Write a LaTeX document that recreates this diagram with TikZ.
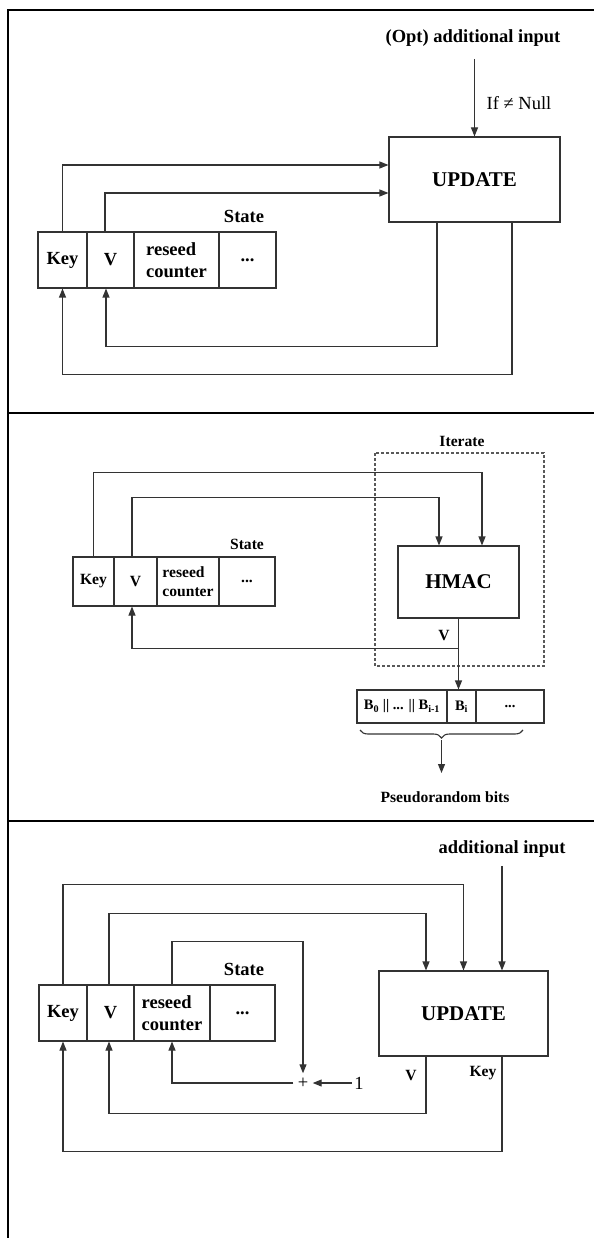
\documentclass[tikz,border=0pt]{standalone}
\usepackage{fontspec}
\setmainfont{Liberation Serif}
\usetikzlibrary{arrows.meta,decorations.pathreplacing}

\tikzset{every picture/.style={line width=1pt},
  frame/.style={draw=black, line width=1.8pt},
  wire/.style={draw=black!80, line width=1.1pt},
  arr/.style={wire, -{Triangle[length=9pt,width=7pt]}},
  box/.style={draw=black!80, line width=1.1pt, inner sep=0pt, font=\fontsize{21}{23}\selectfont\bfseries},
  cell/.style={draw=black!80, line width=1.1pt, inner sep=0pt, minimum height=56pt, align=left, font=\fontsize{18.5}{22}\selectfont\bfseries},
  smallcell/.style={cell, minimum height=49pt, font=\fontsize{15.6}{19}\selectfont\bfseries},
  bitcell/.style={cell, minimum height=33pt, font=\fontsize{14.5}{16}\selectfont\bfseries},
  lab/.style={inner sep=2pt, font=\fontsize{18.5}{22}\selectfont\bfseries},
  smalllab/.style={inner sep=2pt, font=\fontsize{15.6}{18}\selectfont\bfseries},
  plain/.style={inner sep=2pt, font=\fontsize{18.5}{22}\selectfont}
}

\begin{document}
\begin{tikzpicture}[x=1pt,y=1pt,yscale=-1,xscale=1]
\useasboundingbox (0,0) rectangle (594,1238);

%Shape: Frame
\draw [frame] (8,1238) -- (8,10) -- (594,10) ;
\draw [frame] (8,413) -- (594,413) ;
\draw [frame] (8,821) -- (594,821) ;

%%% Panel 1
%Shape: Rectangle
\draw (474.5,179.5) node (u1) [box, minimum width=171pt, minimum height=85pt] {UPDATE};
%Shape: State cells
\draw (62.5,260) node (k1) [cell, minimum width=49pt] {Key};
\draw (110.5,260) node (v1) [cell, minimum width=47pt] {V};
\draw (176.5,260) node (r1) [cell, minimum width=85pt] {reseed\\counter};
\draw (247.5,260) node (d1) [cell, minimum width=57pt] {...};
% Text Node
\draw (473,38) node (addin1) [lab] {(Opt) additional input};
% Text Node
\draw (519,103) node (ifnn1) [plain] {If ≠ Null};
% Text Node
\draw (244,216) node (st1) [lab] {State};
%Straight Lines
\draw [arr, shorten <=10pt] (addin1.south -| u1.north) -- (u1.north) ;
\draw [arr] (k1.north) |- ([yshift=-14.5pt]u1.west) ;
\draw [arr] ([xshift=-5.5pt]v1.north) |- ([yshift=13.5pt]u1.west) ;
\draw [arr] ([xshift=-37.5pt]u1.south) -- ++(0,124) -| ([xshift=-4.5pt]v1.south) ;
\draw [arr] ([xshift=37.5pt]u1.south) -- ++(0,152) -| (k1.south) ;

%%% Panel 2
%Shape: Dashed rectangle
\draw [draw=black!65, line width=1.3pt, dash pattern=on 3pt off 2pt] (375,453) rectangle (544,666) ;
% Text Node
\draw (462,441) node (iter2) [smalllab] {Iterate};
%Shape: Rectangle
\draw (458.5,582) node (h2) [box, minimum width=121pt, minimum height=72pt] {HMAC};
%Shape: State cells
\draw (93.5,581.5) node (k2) [smallcell, minimum width=41pt] {Key};
\draw (135.5,581.5) node (v2) [smallcell, minimum width=43pt] {V};
\draw (188,581.5) node (r2) [smallcell, minimum width=62pt] {reseed\\counter};
\draw (247,581.5) node (d2) [smallcell, minimum width=56pt] {...};
% Text Node
\draw (247,544) node (st2) [smalllab] {State};
%Shape: Output cells
\draw (402,706.5) node (b20) [bitcell, minimum width=90pt] {B\textsubscript{0} || ... || B\textsubscript{i-1}};
\draw (461.5,706.5) node (b2i) [bitcell, minimum width=29pt] {B\textsubscript{i}};
\draw (510,706.5) node (b2r) [bitcell, minimum width=68pt] {...};
% Text Node
\draw (444,636) node (vlab2) [smalllab] {V};
% Text Node
\draw (445,797) node (prb2) [smalllab] {Pseudorandom bits};
%Straight Lines
\draw [arr] (k2.north) -- ++(0,-84) -| ([xshift=23.5pt]h2.north) ;
\draw [arr] ([xshift=-3.5pt]v2.north) -- ++(0,-59) -| ([xshift=-19.5pt]h2.north) ;
\draw [arr] (h2.south) -- (h2.south |- b2i.north) ;
\path (h2.south) ++(0,30) coordinate (split2) ;
\draw [arr] (split2) -| ([xshift=-3.5pt]v2.south) ;
%Shape: Brace
\draw [wire, decorate, decoration={brace, mirror, amplitude=8pt}] (360,730) -- (523,730) ;
\coordinate (brtip2) at (441.5,740) ;
\draw [arr, shorten >=16pt] (brtip2) -- (brtip2 |- prb2.north) ;

%%% Panel 3
%Shape: Rectangle
\draw (463.5,1013.5) node (u3) [box, minimum width=169pt, minimum height=85pt] {UPDATE};
%Shape: State cells
\draw (63,1013) node (k3) [cell, minimum width=48pt] {Key};
\draw (110.5,1013) node (v3) [cell, minimum width=47pt] {V};
\draw (172,1013) node (r3) [cell, minimum width=76pt] {reseed\\counter};
\draw (242.5,1013) node (d3) [cell, minimum width=65pt] {...};
% Text Node
\draw (502,849) node (addin3) [lab] {additional input};
% Text Node
\draw (244,969) node (st3) [lab] {State};
% Text Node
\draw (303,1083) node (plus3) [plain, inner sep=4pt] {+};
% Text Node
\draw (359,1083) node (one3) [plain] {1};
% Text Node
\draw (411,1075) node (vlab3) [smalllab] {V};
% Text Node
\draw (483,1073) node (klab3) [smalllab] {Key};
%Straight Lines
\draw [arr, shorten <=6pt] (addin3.south) -- (addin3.south |- u3.north) ;
\draw [arr] (k3.north) -- ++(0,-100) -| (u3.north) ;
\draw [arr] ([xshift=-1.5pt]v3.north) -- ++(0,-71) -| ([xshift=-37.5pt]u3.north) ;
\draw [arr] (r3.north) -- ++(0,-43) -| (plus3.north) ;
\draw [arr] (one3.west) -- (plus3.east) ;
\draw [arr] (plus3.west) -| (r3.south) ;
\draw [arr] ([xshift=-37.5pt]u3.south) -- ++(0,57) -| ([xshift=-1.5pt]v3.south) ;
\draw [arr] ([xshift=38.5pt]u3.south) -- ++(0,95) -| (k3.south) ;

\end{tikzpicture}
\end{document}
